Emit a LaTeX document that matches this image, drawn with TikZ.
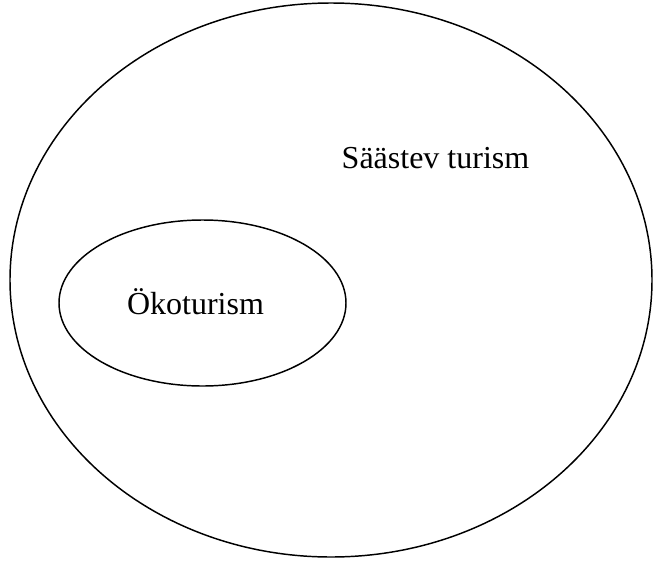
\documentclass[tikz,border=0pt]{standalone}
\usepackage{fontspec}
\setmainfont{Liberation Serif}
\usetikzlibrary{shapes.geometric,positioning}

\begin{document}
\begin{tikzpicture}[x=0.75pt,y=-0.75pt, every node/.style={font=\fontsize{24}{28}\selectfont}]
  \useasboundingbox (0,0) rectangle (654,561);
  \node[draw,ellipse,line width=1.1pt,inner sep=0pt,minimum width=481.5pt,minimum height=415.5pt] (saastev) at (331,280) {};
  \node[draw,ellipse,line width=1.1pt,inner sep=0pt,minimum width=215.25pt,minimum height=124.5pt] (oko) at (202.5,303) {};
  \node (saastevtxt) at (435.5,158) {Säästev turism};
  \node (okotxt) at (195.5,302) {Ökoturism};
\end{tikzpicture}
\end{document}
